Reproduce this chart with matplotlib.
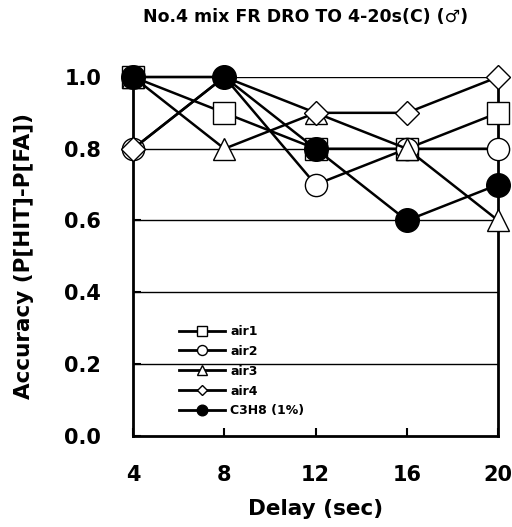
import numpy as np
import matplotlib
matplotlib.use('Agg')
import matplotlib.pyplot as plt

# 数据
delay = [4, 8, 12, 16, 20]
air1 = [1.0, 0.9, 0.8, 0.8, 0.9]
air2 = [0.8, 1.0, 0.7, 0.8, 0.8]
air3 = [1.0, 0.8, 0.9, 0.8, 0.6]
air4 = [0.8, 1.0, 0.9, 0.9, 1.0]
c3h8 = [1.0, 1.0, 0.8, 0.6, 0.7]
names = ['air1', 'air2', 'air3', 'air4', 'C3H8 (1%)']
yticks = [0.0, 0.2, 0.4, 0.6, 0.8, 1.0]

plt.rcParams['font.family'] = ['DejaVu Sans']
plt.rcParams['font.weight'] = 'bold'

fig = plt.figure(figsize=(5.12, 5.27), dpi=100)
ax = fig.add_axes([0.260, 0.173, 0.713, 0.681])

# 网格线
for y in yticks[1:]:
    ax.axhline(y, color='k', lw=1.0, zorder=1)

series = [air1, air2, air3, air4, c3h8]
markers = ['s', 'o', '^', 'D', 'o']
faces = ['white', 'white', 'white', 'white', 'black']
sizes = [16, 16, 16, 12, 17]
handles = []
for s, m, fc, ms, nm in zip(series, markers, faces, sizes, names):
    ax.plot(delay, s, color='k', lw=1.8, marker=m, ms=ms, mfc=fc, mec='k',
            mew=1.0, clip_on=False, zorder=3)
    h, = ax.plot([], [], color='k', lw=2.0, marker=m, ms=ms * 0.45 if m != 'D' else 5,
                 mfc=fc, mec='k', mew=1.0, label=nm)
    handles.append(h)

ax.set_xlim(4, 20)
ax.set_ylim(0, 1.0)
ax.set_xticks(delay)
ax.set_yticks(yticks)
ax.set_yticklabels(['%.1f' % v for v in yticks])
ax.tick_params(direction='in', length=6, width=1.5, labelsize=15)
ax.tick_params(axis='x', pad=21)
ax.tick_params(axis='y', pad=23)
for lab in ax.get_xticklabels() + ax.get_yticklabels():
    lab.set_fontweight('bold')

ax.spines['top'].set_visible(False)
for sp in ['left', 'bottom', 'right']:
    ax.spines[sp].set_linewidth(2.0)

ax.set_xlabel('Delay (sec)', fontsize=15.5, fontweight='bold', labelpad=10)
ax.set_ylabel('Accuracy (P[HIT]-P[FA])', fontsize=15.5, fontweight='bold', labelpad=22)
fig.text(0.596, 0.967, 'No.4 mix FR DRO TO 4-20s(C) (\u2642)', ha='center', va='center',
         fontsize=12.5, fontweight='bold')

ax.legend(handles=handles, loc='lower left', bbox_to_anchor=(0.095, 0.02), frameon=False,
          handlelength=3.7, labelspacing=0.55, handletextpad=0.4,
          prop={'weight': 'bold', 'size': 9})

fig.savefig('out.png', dpi=100)
